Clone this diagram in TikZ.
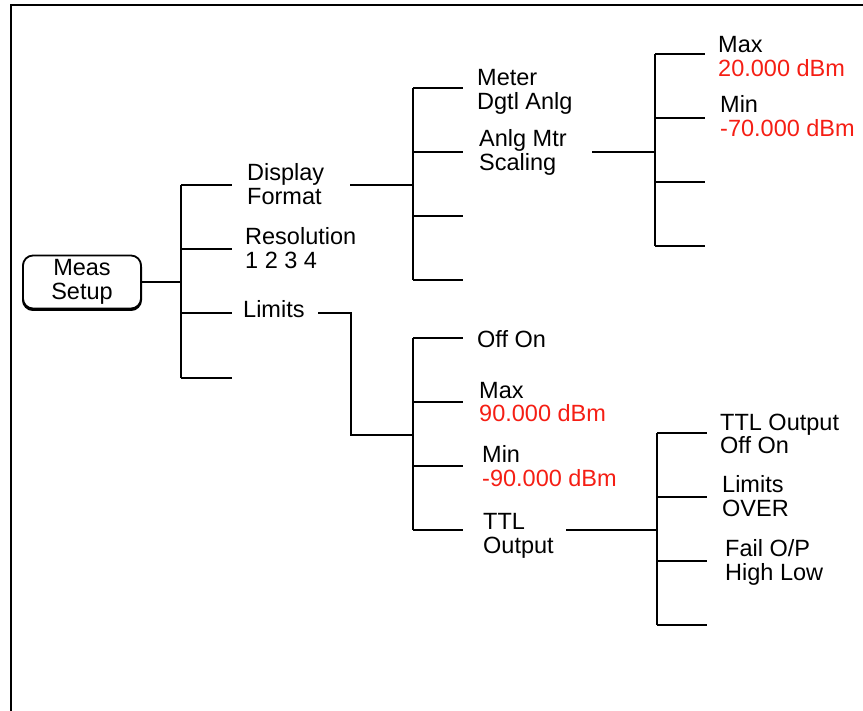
\documentclass[tikz,border=0pt]{standalone}
\usepackage{fontspec}
\setmainfont{Liberation Sans}
\usetikzlibrary{positioning}

\definecolor{valred}{RGB}{245,30,20}
\newcommand{\keyfont}{\fontsize{23.5}{24}\selectfont}

\tikzset{
  menu/.style={anchor=base west, align=left, inner sep=0pt, font=\keyfont},
  tree/.style={line width=1.8pt},
  keybox/.style={draw, line width=1.8pt, rounded corners=10pt, fill=white,
    minimum width=118pt, minimum height=53pt, inner sep=0pt, align=center,
    font=\keyfont,
    preaction={draw, line width=2pt, transform canvas={yshift=-1.5pt}}}
}

\begin{document}
\begin{tikzpicture}[x=1pt,y=-1pt]
\useasboundingbox (0,0) rectangle (863,711);

% frame
\draw[line width=2pt] (11,711) -- (11,5) -- (863,5);

% hardkey
\node[keybox] (meas) at (82,282) {Meas\\Setup};

% first level softkeys (base = last line)
\node[menu] (disp) at (247,205) {Display\\Format};
\node[menu] (res)  at (245,269) {Resolution\\1 2 3 4};
\node[menu] (lim)  at (243,318) {Limits};

\coordinate (j1) at (181,282);
\draw[tree] (meas.east) -- (j1);
\draw[tree] (181,185) -- (181,378);
\foreach \y in {185,249,313,378}
  \draw[tree] (181,\y) -- (232,\y);

% display format menu
\node[menu] (meter) at (477,110) {Meter\\Dgtl Anlg};
\node[menu] (scal)  at (479,171) {Anlg Mtr\\Scaling};

\coordinate (dfout) at (350,185);
\coordinate (j2) at (413,185);
\draw[tree] (dfout) -- (j2);
\draw[tree] (413,88) -- (413,280);
\foreach \y in {88,152,216,280}
  \draw[tree] (413,\y) -- (463,\y);

% analog meter scaling menu
\node[menu] (smax) at (718,77)  {Max\\\textcolor{valred}{20.000 dBm}};
\node[menu] (smin) at (720,137) {Min\\\textcolor{valred}{-70.000 dBm}};

\coordinate (scout) at (592,152);
\coordinate (j3) at (655,152);
\draw[tree] (scout) -- (j3);
\draw[tree] (655,54) -- (655,246);
\foreach \y in {54,118,182,246}
  \draw[tree] (655,\y) -- (705,\y);

% limits menu
\node[menu] (lonoff) at (477,348) {Off On};
\node[menu] (lmax)   at (479,422) {Max\\\textcolor{valred}{90.000 dBm}};
\node[menu] (lmin)   at (482,486) {Min\\\textcolor{valred}{-90.000 dBm}};
\node[menu] (lttl)   at (483,553) {TTL\\Output};

\coordinate (limout) at (318,313);
\coordinate (j4) at (413,435);
\draw[tree] (limout) -- (351,313) -- (351,435) -- (j4);
\draw[tree] (413,338) -- (413,530);
\foreach \y in {338,402,466,530}
  \draw[tree] (413,\y) -- (463,\y);

% ttl output menu
\node[menu] (tonoff) at (720,454) {TTL Output\\Off On};
\node[menu] (tover)  at (722,516) {Limits\\OVER};
\node[menu] (tfail)  at (725,580) {Fail O/P\\High Low};

\coordinate (ttlout) at (566,530);
\coordinate (j5) at (657,530);
\draw[tree] (ttlout) -- (j5);
\draw[tree] (657,433) -- (657,625);
\foreach \y in {433,497,561,625}
  \draw[tree] (657,\y) -- (707,\y);

\end{tikzpicture}
\end{document}
